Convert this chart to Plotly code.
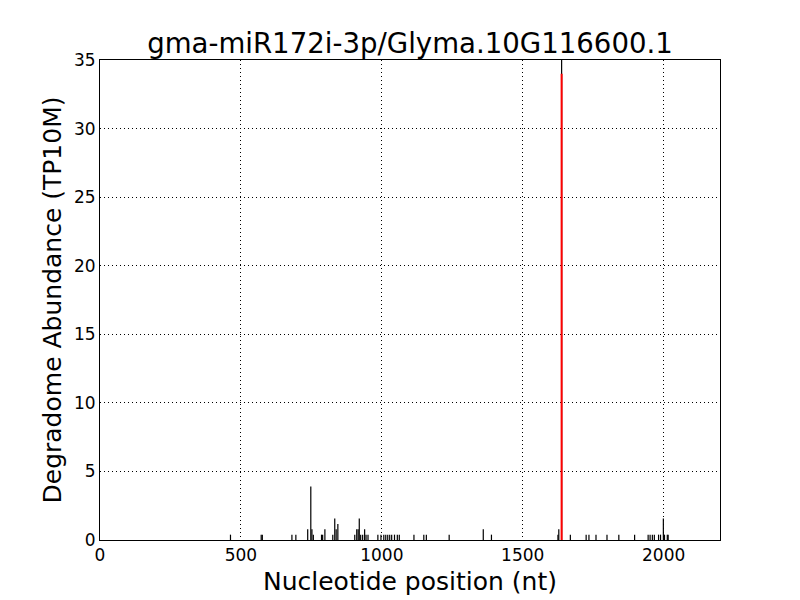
import plotly.graph_objects as go

title = "gma-miR172i-3p/Glyma.10G116600.1"
positions = [463, 572, 576, 681, 695, 737, 748, 752, 757, 786, 790, 798,
             826, 833, 838, 844, 904, 911, 916, 920, 925, 932, 939, 944, 951,
             986, 997, 1007, 1014, 1021, 1028, 1035, 1045, 1055, 1062,
             1114, 1149, 1158, 1239, 1360, 1389, 1625, 1628, 1638,
             1669, 1725, 1735, 1760, 1799, 1841, 1897,
             1945, 1952, 1960, 1967, 1982, 1989, 1999, 2003, 2013, 2016]
abundance = [0.39, 0.39, 0.39, 0.39, 0.39, 0.78, 3.9, 0.78, 0.39, 0.39, 0.39, 0.78,
             0.39, 1.56, 0.78, 1.17, 0.39, 0.78, 0.78, 1.56, 0.39, 0.39, 0.78, 0.39, 0.39,
             0.39, 0.39, 0.39, 0.39, 0.39, 0.39, 0.39, 0.39, 0.39, 0.39,
             0.39, 0.39, 0.39, 0.39, 0.78, 0.39, 0.39, 0.78, 40.0,
             0.39, 0.39, 0.39, 0.39, 0.39, 0.39, 0.39,
             0.39, 0.39, 0.39, 0.39, 0.39, 0.39, 1.56, 0.39, 0.39, 0.39]
site_position = [1638]
site_abundance = [34.0]

def segs(xs, ys):
    X, Y = [], []
    for x, y in zip(xs, ys):
        X += [x, x, None]
        Y += [0, y, None]
    return X, Y

bx, by = segs(positions, abundance)
rx, ry = segs(site_position, site_abundance)

fig = go.Figure()
fig.add_trace(go.Scatter(x=bx, y=by, mode="lines", line=dict(color="black", width=1.2),
                         hoverinfo="skip", showlegend=False))
fig.add_trace(go.Scatter(x=rx, y=ry, mode="lines", line=dict(color="red", width=2),
                         hoverinfo="skip", showlegend=False))

font = "DejaVu Sans"
W, H = 792, 592  # page body has an 8px margin
fig.update_layout(
    width=W, height=H,
    paper_bgcolor="white", plot_bgcolor="white",
    margin=dict(l=92, r=80, t=52, b=60, autoexpand=False),
    title=dict(text=title, x=(410 - 8) / W, xanchor="center", y=1 - 35 / H, yanchor="middle",
               font=dict(family=font, size=27.6, color="black")),
    font=dict(family=font, color="black"),
)
fig.update_xaxes(range=[0, 2200], tickvals=[0, 500, 1000, 1500, 2000], automargin=False,
                 showgrid=True, gridcolor="black", griddash="1px,3px", gridwidth=1,
                 showline=True, linecolor="black", linewidth=1, mirror=True,
                 zeroline=False, ticks="", tickfont=dict(size=17, family=font),
                 title=dict(text="Nucleotide position (nt)", font=dict(size=25, family=font), standoff=8))
fig.update_yaxes(range=[0, 35], tickvals=[0, 5, 10, 15, 20, 25, 30, 35], automargin=False,
                 showgrid=True, gridcolor="black", griddash="1px,3px", gridwidth=1,
                 showline=True, linecolor="black", linewidth=1, mirror=True,
                 zeroline=False, ticks="", tickfont=dict(size=17, family=font),
                 title=dict(text="Degradome Abundance (TP10M)", font=dict(size=25, family=font), standoff=5))

fig.write_html("out.html")
